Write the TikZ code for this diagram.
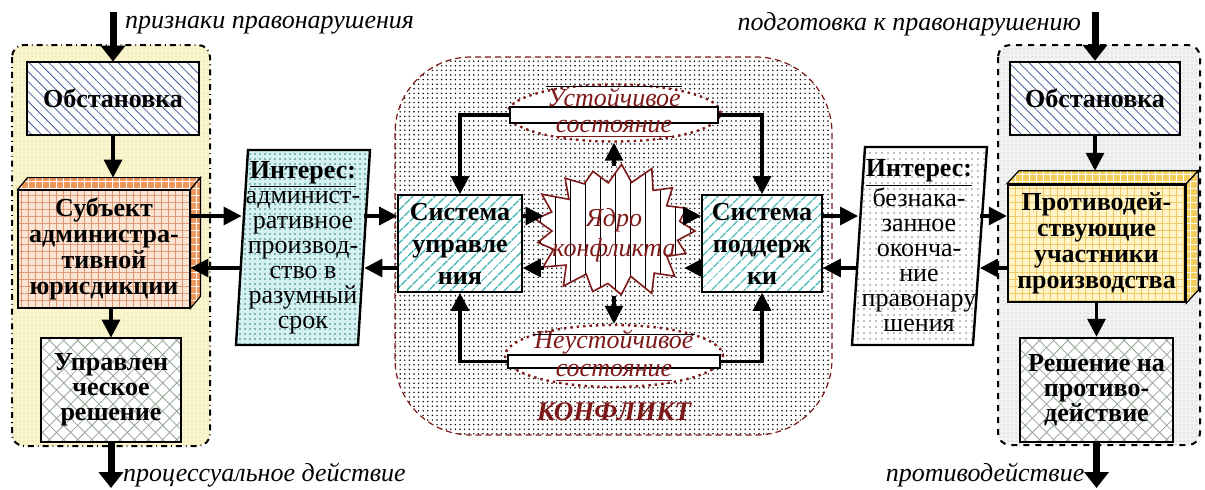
\documentclass[tikz,border=0pt]{standalone}
\usepackage{fontspec}
\setmainfont{Liberation Serif}
\usetikzlibrary{arrows.meta,patterns.meta,shapes.geometric}

\definecolor{darkred}{RGB}{125,25,25}
\definecolor{obstblue}{RGB}{70,90,150}
\definecolor{syscyan}{RGB}{60,180,180}
\definecolor{peach}{RGB}{250,228,212}
\definecolor{peachgrid}{RGB}{225,150,115}
\definecolor{peachside}{RGB}{240,150,90}
\definecolor{lemon}{RGB}{255,245,200}
\definecolor{lemongrid}{RGB}{240,200,100}
\definecolor{lemonside}{RGB}{245,205,90}
\definecolor{paleyellow}{RGB}{250,245,205}
\definecolor{paleyellowdot}{RGB}{225,215,140}
\definecolor{palecyan}{RGB}{212,240,240}
\definecolor{crossgrey}{RGB}{150,165,150}

\begin{document}
\begin{tikzpicture}[x=0.5pt, y=-0.5pt,
    conn/.style={line width=1.6pt, -{Triangle[length=9pt,width=9pt]}},
    flow/.style={line width=3.5pt, -{Triangle[length=8pt,width=12pt]}},
    lbl/.style={font=\itshape\fontsize{13}{15}\selectfont},
    box/.style={draw, line width=1.2pt, align=center, inner sep=1pt,
      font=\bfseries\fontsize{13}{13}\selectfont},
    obstbox/.style={box, preaction={fill=white},
      pattern={Lines[angle=-45,distance=3.5pt,line width=0.4pt]}, pattern color=obstblue},
    sysbox/.style={box, line width=0.8pt, font=\bfseries\fontsize{13}{16}\selectfont,
      preaction={fill=white},
      pattern={Lines[angle=45,distance=4pt,line width=0.8pt]}, pattern color=syscyan},
    crossbox/.style={box, font=\bfseries\fontsize{13}{12.5}\selectfont, preaction={fill=white},
      pattern={Hatch[angle=45,distance=5pt,line width=0.4pt]}, pattern color=crossgrey},
    subjbox/.style={box, preaction={fill=peach},
      pattern={Hatch[angle=0,distance=3.5pt,line width=0.4pt]}, pattern color=peachgrid},
    subjside/.style={line width=0.6pt, preaction={fill=peachside},
      pattern={Hatch[angle=0,distance=3.5pt,line width=0.3pt]}, pattern color=white},
    protbox/.style={box, preaction={fill=lemon},
      pattern={Hatch[angle=0,distance=3.5pt,line width=0.4pt]}, pattern color=lemongrid},
    protside/.style={line width=0.6pt, preaction={fill=lemonside},
      pattern={Hatch[angle=0,distance=3.5pt,line width=0.3pt]}, pattern color=white},
    inttext/.style={align=center, inner sep=0pt, font=\fontsize{13}{12.5}\selectfont},
    state/.style={ellipse, draw=darkred, dotted, line width=1.2pt, fill=white, inner sep=0pt},
    band/.style={draw, line width=0.7pt, fill=white, inner sep=0pt},
    statetxt/.style={text=darkred, inner sep=0.5pt, font=\itshape\fontsize{13}{14}\selectfont}]

\useasboundingbox (0,0) rectangle (1205,489);

\draw[dash dot, line width=1pt, rounded corners=6pt, preaction={fill=paleyellow},
  pattern={Dots[distance=2pt,radius=0.35pt]}, pattern color=paleyellowdot] (12,45) rectangle (210,446);
\draw[dashed, line width=1pt, rounded corners=6pt, preaction={fill=gray!10},
  pattern={Dots[distance=2pt,radius=0.35pt]}, pattern color=gray!55] (998,45) rectangle (1200,445);
\draw[densely dashed, draw=darkred, line width=0.6pt, rounded corners=38pt, preaction={fill=white},
  pattern={Dots[distance=2.3pt,radius=0.42pt]}, pattern color=black] (395,57) rectangle (832,435);

\coordinate (hi) at (0,216);
\coordinate (lo) at (0,268);

% left column
\node[obstbox, minimum width=86pt, minimum height=36.5pt] (obstL) at (113,98.5) {Обстановка};
\node[subjbox, minimum width=86pt, minimum height=59pt] (subj) at (104,249)
  {Субъект\\администра-\\тивной\\юрисдикции};
\draw[subjside] (subj.north west) -- ++(10,-12) -- ([shift={(10,-12)}]subj.north east) -- (subj.north east) -- cycle;
\draw[subjside] (subj.north east) -- ++(10,-12) -- ([shift={(10,-12)}]subj.south east) -- (subj.south east) -- cycle;
\node[crossbox, minimum width=70pt, minimum height=52pt] (upr) at (111,390) {Управлен\\ческое\\решение};

\coordinate (inL) at (113,12);
\coordinate (outL) at (111,488);
\draw[flow] (inL) -- (obstL.north) node[pos=0.26, right=1pt, lbl] {признаки правонарушения};
\draw[conn] (obstL.south) -- ([yshift=6pt]subj.north -| obstL.south);
\draw[conn] (subj.south -| upr.north) -- (upr.north);
\draw[flow] (upr.south) -- (outL) node[pos=0.72, right=1pt, lbl] {процессуальное действие};

% interests
\draw[line width=1.2pt, preaction={fill=palecyan},
  pattern={Dots[distance=2.5pt,radius=0.4pt]}, pattern color=syscyan!70!black]
  (248,150) -- (370,150) -- (358,345) -- (236,345) -- cycle;
\node[inttext, minimum width=61pt, minimum height=97.5pt] (intL) at (303,247.5)
  {\underline{\textbf{Интерес:}}\\админист-\\ративное\\производ-\\ство в\\разумный\\срок};
\draw[line width=1.2pt, preaction={fill=white},
  pattern={Dots[distance=3pt,radius=0.4pt]}, pattern color=gray]
  (865,147) -- (987,147) -- (973,345) -- (852,345) -- cycle;
\node[inttext, minimum width=60.5pt, minimum height=99pt] (intR) at (919,246)
  {\underline{\textbf{Интерес:}}\\безнака-\\занное\\оконча-\\ние\\правонару\\шения};

% conflict
\node[sysbox, minimum width=62pt, minimum height=48.5pt] (sysU) at (460,243.5) {Система\\управле\\ния};
\node[sysbox, minimum width=60pt, minimum height=48.5pt] (sysP) at (762,243.5) {Система\\поддерж\\ки};
\node[ellipse, minimum width=70pt, minimum height=55pt, inner sep=0pt] (core) at (614,231) {};
\draw[draw=darkred, line width=0.8pt, preaction={fill=white},
  pattern={Lines[angle=90,distance=7.5pt,line width=0.5pt]}, pattern color=black]
  plot[samples at={0,...,33}]
  ({614+(isodd(\x) ? 64+3*cos(\x*77) : 81+4*sin(\x*131))*cos(\x*360/34)},
   {231+(isodd(\x) ? 50+3*cos(\x*77) : 66+4*sin(\x*131))*sin(\x*360/34)}) -- cycle;
\node[statetxt, align=center, font=\itshape\fontsize{13}{15}\selectfont] (coreLbl) at (614,235) {Ядро\\конфликта};

\node[state, minimum width=106.5pt, minimum height=28.5pt] (stab) at (614,113) {};
\node[band, minimum width=104pt, minimum height=8pt] (stabBand) at (614,115) {};
\node[statetxt] (stabTop) at (614,97) {Устойчивое};
\node[statetxt] (stabBot) at (614,129) {\underline{состояние}};
\draw[line width=0.5pt] (stabTop.north west) -- (stabTop.north east);

\node[state, minimum width=109pt, minimum height=31pt] (unstab) at (614,356) {};
\node[band, minimum width=106pt, minimum height=6.5pt] (unstabBand) at (614,361.5) {};
\node[statetxt] (unstabTop) at (614,342) {Неустойчивое};
\node[statetxt] (unstabBot) at (614,373) {\underline{состояние}};
\draw[line width=0.5pt] ([yshift=-3pt]unstabTop.north west) -- ([yshift=-3pt]unstabTop.north east);

\node[text=darkred, font=\bfseries\itshape\fontsize{13.5}{15}\selectfont] (conflLbl) at (614,412) {КОНФЛИКТ};

\draw[conn] (stabBand.west) -| (sysU.north);
\draw[conn] (stabBand.east) -| (sysP.north);
\draw[conn] (unstabBand.west) -| (sysU.south);
\draw[conn] (unstabBand.east) -| (sysP.south);
\draw[conn] ([yshift=5pt]core.north) -- (stab.south);
\draw[conn] ([yshift=-5pt]core.south) -- (unstab.north);
\draw[conn] (sysU.east |- hi) -- (core.west |- hi);
\draw[conn] (core.east |- hi) -- (sysP.west |- hi);
\draw[conn] (sysP.west |- lo) -- (core.east |- lo);
\draw[conn] (core.west |- lo) -- (sysU.east |- lo);

% right column
\node[obstbox, minimum width=85pt, minimum height=36.5pt] (obstR) at (1095,98.5) {Обстановка};
\node[protbox, minimum width=88.5pt, minimum height=58.5pt] (protiv) at (1096.5,243.5)
  {Противодей-\\ствующие\\участники\\производства};
\draw[protside] (protiv.north west) -- ++(12,-13) -- ([shift={(12,-13)}]protiv.north east) -- (protiv.north east) -- cycle;
\draw[protside] (protiv.north east) -- ++(12,-13) -- ([shift={(12,-13)}]protiv.south east) -- (protiv.south east) -- cycle;
\node[crossbox, minimum width=76.5pt, minimum height=52pt] (resh) at (1096.5,390) {Решение на\\противо-\\действие};

\coordinate (inR) at (1095,12);
\coordinate (outR) at (1096.5,488);
\draw[flow] (inR) -- (obstR.north) node[pos=0.26, left=2pt, lbl] {подготовка к правонарушению};
\draw[conn] (obstR.south) -- ([yshift=6.5pt]protiv.north -| obstR.south);
\draw[conn] (protiv.south -| resh.north) -- (resh.north);
\draw[flow] (resh.south) -- (outR) node[pos=0.72, left=1pt, lbl] {противодействие};

% links
\draw[conn] (subj.east |- hi) -- (intL.west |- hi);
\draw[conn] (intL.west |- lo) -- (subj.east |- lo);
\draw[conn] (intL.east |- hi) -- (sysU.west |- hi);
\draw[conn] (sysU.west |- lo) -- (intL.east |- lo);
\draw[conn] (sysP.east |- hi) -- (intR.west |- hi);
\draw[conn] (intR.west |- lo) -- (sysP.east |- lo);
\draw[conn] (intR.east |- hi) -- (protiv.west |- hi);
\draw[conn] (protiv.west |- lo) -- (intR.east |- lo);
\end{tikzpicture}
\end{document}
